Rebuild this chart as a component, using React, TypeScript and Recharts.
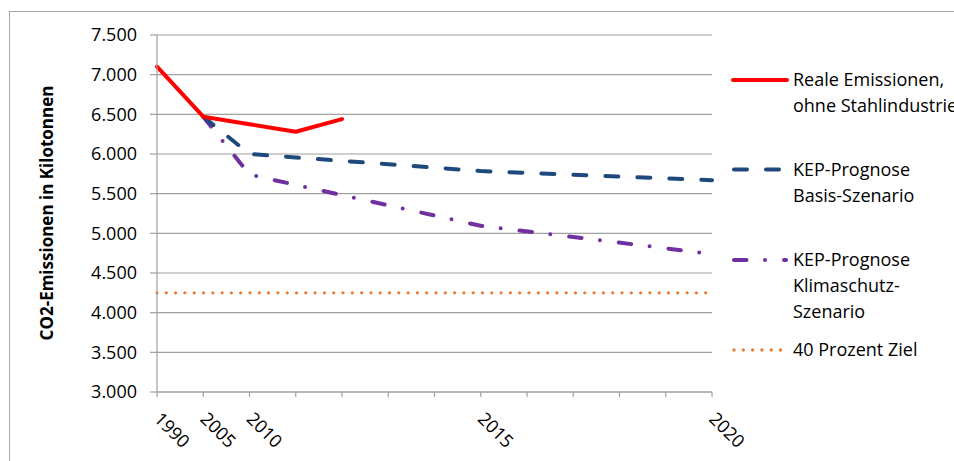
import React from 'react';
import { LineChart, Line, XAxis, YAxis, CartesianGrid, Label } from 'recharts';

const categories = ['1990', '2005', '2010', '2011', '2012', '2013', '2014', '2015', '2016', '2017', '2018', '2019', '2020'];
const xTickLabels = ['1990', '2005', '2010', '2015', '2020'];
const realeEmissionen = [7100, 6470, 6375, 6280, 6440, null, null, null, null, null, null, null, null];
const basisSzenario = [null, 6470, 6000, null, null, null, null, 5785, null, null, null, null, 5670];
const klimaschutzSzenario = [null, 6470, 5740, null, null, null, null, 5095, null, null, null, null, 4740];
const prozentZiel = [4250, 4250, 4250, 4250, 4250, 4250, 4250, 4250, 4250, 4250, 4250, 4250, 4250];
const yTicks = [3000, 3500, 4000, 4500, 5000, 5500, 6000, 6500, 7000, 7500];

const seriesNames = {
  reale: ['Reale Emissionen,', 'ohne Stahlindustrie'],
  basis: ['KEP-Prognose', 'Basis-Szenario'],
  klima: ['KEP-Prognose', 'Klimaschutz-', 'Szenario'],
  ziel: ['40 Prozent Ziel'],
};

const COLORS = {
  reale: '#FF0000',
  basis: '#1F497D',
  klima: '#7030A0',
  ziel: '#ED7D31',
};

const DASH = {
  reale: undefined as string | undefined,
  basis: '13 19',
  klima: '12.5 18.5 0 19',
  ziel: '0 9.3',
};
const WIDTH = { reale: 4, basis: 4, klima: 4, ziel: 3.3 };

const data = categories.map((c, i) => ({
  year: c,
  reale: realeEmissionen[i],
  basis: basisSzenario[i],
  klima: klimaschutzSzenario[i],
  ziel: prozentZiel[i],
}));

const FONT = "'Open Sans', sans-serif";
const GRID = '#A0A0A0';

const fmt = (v: number) => v.toLocaleString('de-DE');

const XTick = (props: any) => {
  const { x, payload } = props;
  if (!xTickLabels.includes(String(payload.value))) return null;
  const tx = x - 4;
  const ty = 420;
  return (
    <text x={tx} y={ty} transform={`rotate(45 ${tx} ${ty})`} textAnchor="start" fontFamily={FONT} fontSize={18} fill="#000">
      {payload.value}
    </text>
  );
};

const ChartLegend = () => {
  const keys: Array<keyof typeof seriesNames> = ['reale', 'basis', 'klima', 'ziel'];
  const ys = { reale: 80, basis: 169.5, klima: 260, ziel: 350 };
  return (
    <svg width={954} height={461} style={{ position: 'absolute', left: 0, top: 0, pointerEvents: 'none' }}>
      {keys.map((k) => {
        const y = ys[k];
        return (
          <g key={k}>
            <line
              x1={k === 'reale' ? 733 : 734}
              x2={k === 'reale' ? 787 : k === 'ziel' ? 782 : 786}
              y1={y}
              y2={y}
              stroke={COLORS[k]}
              strokeWidth={WIDTH[k]}
              strokeDasharray={DASH[k]}
              strokeLinecap="round"
            />
            {seriesNames[k].map((t, i) => (
              <text key={i} x={793} y={y + i * 25.8} dy="0.36em" fontFamily={FONT} fontSize={18} fill="#000">
                {t}
              </text>
            ))}
          </g>
        );
      })}
    </svg>
  );
};

export default function App() {
  return (
    <div style={{ position: 'fixed', left: 0, top: 0, width: 954, height: 461, overflow: 'hidden', background: '#fff' }}>
      <div
        style={{
          position: 'absolute',
          left: 9,
          top: 11,
          width: 1200,
          height: 700,
          border: '1px solid #A6A6A6',
          boxSizing: 'border-box',
        }}
      />
      <div style={{ position: 'absolute', left: 0, top: 0 }}>
        <LineChart width={954} height={461} data={data} margin={{ top: 35, right: 242, bottom: 9, left: 0 }}>
          <CartesianGrid horizontal={true} vertical={false} stroke={GRID} strokeWidth={1.2} />
          <XAxis
            dataKey="year"
            interval={0}
            height={60}
            axisLine={{ stroke: GRID, strokeWidth: 1.2 }}
            tickLine={{ stroke: GRID, strokeWidth: 1.2 }}
            tickSize={5}
            tick={<XTick />}
          />
          <YAxis
            width={157}
            domain={[3000, 7500]}
            ticks={yTicks}
            interval={0}
            tickFormatter={fmt}
            axisLine={{ stroke: GRID, strokeWidth: 1.2 }}
            tickLine={{ stroke: GRID, strokeWidth: 1.2 }}
            tickSize={7}
            tickMargin={13}
            tick={{ fontFamily: FONT, fontSize: 18, fill: '#000' }}
          >
            <Label
              content={() => (
                <text
                  x={46}
                  y={213}
                  transform="rotate(-90 46 213)"
                  textAnchor="middle"
                  dominantBaseline="central"
                  fontFamily={FONT}
                  fontSize={17}
                  fontWeight="bold"
                  fill="#000"
                >
                  CO2-Emissionen in Kilotonnen
                </text>
              )}
            />
          </YAxis>
          <Line dataKey="ziel" stroke={COLORS.ziel} strokeWidth={WIDTH.ziel} strokeDasharray={DASH.ziel} strokeLinecap="round" dot={false} activeDot={false} isAnimationActive={false} connectNulls />
          <Line dataKey="klima" stroke={COLORS.klima} strokeWidth={WIDTH.klima} strokeDasharray={DASH.klima} strokeLinecap="round" strokeLinejoin="round" dot={false} activeDot={false} isAnimationActive={false} connectNulls />
          <Line dataKey="basis" stroke={COLORS.basis} strokeWidth={WIDTH.basis} strokeDasharray={DASH.basis} strokeLinecap="round" strokeLinejoin="round" dot={false} activeDot={false} isAnimationActive={false} connectNulls />
          <Line dataKey="reale" stroke={COLORS.reale} strokeWidth={WIDTH.reale} strokeLinecap="round" strokeLinejoin="round" dot={false} activeDot={false} isAnimationActive={false} connectNulls />
        </LineChart>
      </div>
      <ChartLegend />
    </div>
  );
}
